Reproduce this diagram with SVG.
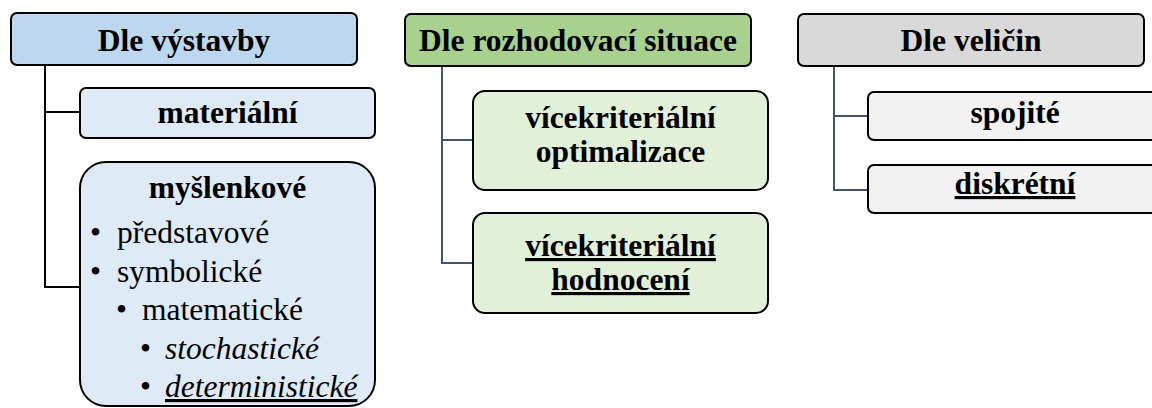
<svg xmlns="http://www.w3.org/2000/svg" width="1152" height="408" viewBox="0 0 1152 408">
<style>
.box{stroke:#000;stroke-width:2}
.t{font-family:"Liberation Serif","Times New Roman",serif;font-size:31.5px;fill:#000}
.b{font-weight:bold}
.c{text-anchor:middle}
.u{text-decoration:underline}
.i{font-style:italic}
.con{fill:none;stroke-width:2}
</style>
<rect width="1152" height="408" fill="#fff"/>
<g id="connectors">
<path class="con" stroke="#000" d="M45,65 V287 H80 M45,112 H80"/>
<path class="con" stroke="#44546A" d="M442,66 V263 H473 M442,140 H473"/>
<path class="con" stroke="#44546A" d="M834,66 V190 H868 M834,116 H868"/>
</g>
<g id="n-vystavby">
<rect class="box" x="11" y="13" width="346" height="52" rx="6" fill="#BDD7EE"/>
<text class="t b c" x="184" y="51">Dle výstavby</text>
</g>
<g id="n-materialni">
<rect class="box" x="80" y="88" width="295" height="50" rx="6" fill="#DEEBF7"/>
<text class="t b c" x="227.5" y="123">materiální</text>
</g>
<g id="n-myslenkove">
<rect class="box" x="80" y="162" width="295" height="244" rx="26" fill="#DEEBF7"/>
<text class="t b c" x="227.5" y="198">myšlenkové</text>
<text class="t" x="90" y="243">•</text><text class="t" x="117" y="243">představové</text>
<text class="t" x="90" y="282">•</text><text class="t" x="117" y="282">symbolické</text>
<text class="t" x="116" y="320">•</text><text class="t" x="142" y="320">matematické</text>
<text class="t" x="140" y="359">•</text><text class="t i" x="165" y="359">stochastické</text>
<text class="t" x="140" y="397">•</text><text class="t i u" x="165" y="397">deterministické</text>
</g>
<g id="n-rozhodovaci">
<rect class="box" x="405" y="14" width="346" height="52" rx="6" fill="#A9D18E"/>
<text class="t b c" x="578" y="51">Dle rozhodovací situace</text>
</g>
<g id="n-optimalizace">
<rect class="box" x="473" y="91" width="295" height="99" rx="12" fill="#E2F0D9"/>
<text class="t b c" x="620.5" y="128">vícekriteriální</text>
<text class="t b c" x="620.5" y="162">optimalizace</text>
</g>
<g id="n-hodnoceni">
<rect class="box" x="473" y="213" width="295" height="100" rx="12" fill="#E2F0D9"/>
<text class="t b c u" x="620.5" y="256">vícekriteriální</text>
<text class="t b c u" x="620.5" y="290">hodnocení</text>
</g>
<g id="n-veliciny">
<rect class="box" x="798" y="14" width="346" height="52" rx="6" fill="#D9D9D9"/>
<text class="t b c" x="971" y="51">Dle veličin</text>
</g>
<g id="n-spojite">
<rect class="box" x="868" y="92" width="294" height="48" rx="6" fill="#F2F2F2"/>
<text class="t b c" x="1015" y="123">spojité</text>
</g>
<g id="n-diskretni">
<rect class="box" x="868" y="165" width="294" height="48" rx="6" fill="#F2F2F2"/>
<text class="t b c u" x="1015" y="194">diskrétní</text>
</g>
</svg>
